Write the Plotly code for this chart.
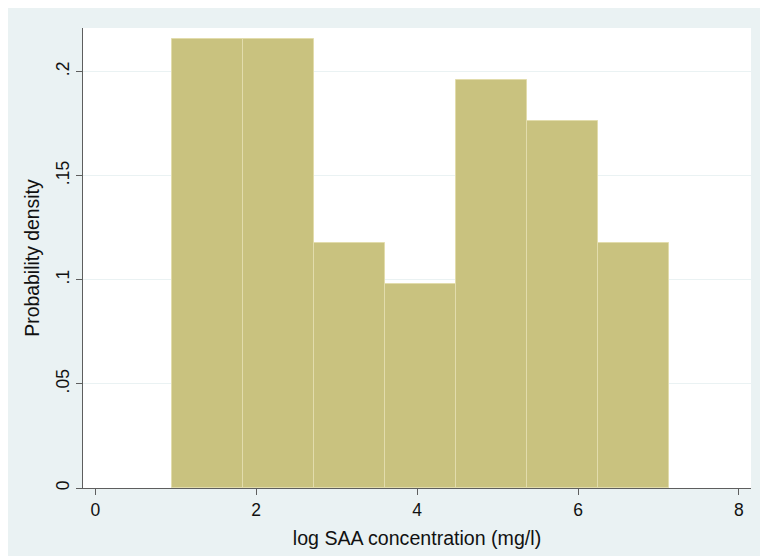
import plotly.graph_objects as go

# Histogram data (bin edges and densities)
bin_edges = [0.957, 1.840, 2.722, 3.605, 4.488, 5.370, 6.253, 7.135]
densities = [0.2155, 0.2155, 0.1176, 0.098, 0.1959, 0.1763, 0.1176]
x_ticks = [0, 2, 4, 6, 8]
y_ticks = [0, 0.05, 0.1, 0.15, 0.2]
y_tick_labels = ["0", ".05", ".1", ".15", ".2"]

centers = [(a + b) / 2 for a, b in zip(bin_edges[:-1], bin_edges[1:])]
widths = [b - a for a, b in zip(bin_edges[:-1], bin_edges[1:])]

BG = "#EAF2F3"
FONT = "Liberation Sans, Arial, sans-serif"

fig = go.Figure()
fig.add_trace(go.Bar(
    x=centers, y=densities, width=widths,
    marker=dict(color="#C9C27F", line=dict(color="#E2DCAC", width=1)),
    hoverinfo="skip",
))

W, H = 760, 556
ml, mr, mt, mb = 83, 9, 28, 68
pw, ph = W - ml - mr, H - mt - mb

def px_x(p):
    return (p - ml) / pw

def px_y(p):
    return (H - mb - p) / ph

# white border at the left and top of the image
fig.add_shape(type="rect", xref="paper", yref="paper",
              x0=px_x(0), x1=px_x(8), y0=px_y(H), y1=px_y(0),
              fillcolor="white", line=dict(width=0), layer="below")
fig.add_shape(type="rect", xref="paper", yref="paper",
              x0=px_x(0), x1=px_x(W), y0=px_y(8), y1=px_y(0),
              fillcolor="white", line=dict(width=0), layer="below")

fig.update_layout(
    width=W, height=H,
    margin=dict(l=ml, r=mr, t=mt, b=mb),
    paper_bgcolor=BG, plot_bgcolor="white",
    showlegend=False, bargap=0,
    font=dict(family=FONT, size=17, color="#111111"),
)
fig.update_xaxes(
    range=[-0.153, 8.15], tickvals=x_ticks,
    showline=True, linecolor="#5E5E5E", linewidth=1,
    ticks="outside", ticklen=6, tickcolor="#5E5E5E",
    showgrid=False, zeroline=False,
    title=dict(text="log SAA concentration (mg/l)", standoff=12,
               font=dict(size=19.6)),
    tickfont=dict(size=17.5),
)
fig.update_yaxes(
    range=[0, 0.2209], tickvals=y_ticks, ticktext=y_tick_labels,
    tickangle=-90,
    showline=True, linecolor="#5E5E5E", linewidth=1,
    ticks="outside", ticklen=6, tickcolor="#5E5E5E",
    showgrid=True, gridcolor=BG, gridwidth=1.3, zeroline=False,
    title=dict(text="Probability density", standoff=8, font=dict(size=19.4)),
    tickfont=dict(size=17.5),
)

fig.write_html("out.html")
